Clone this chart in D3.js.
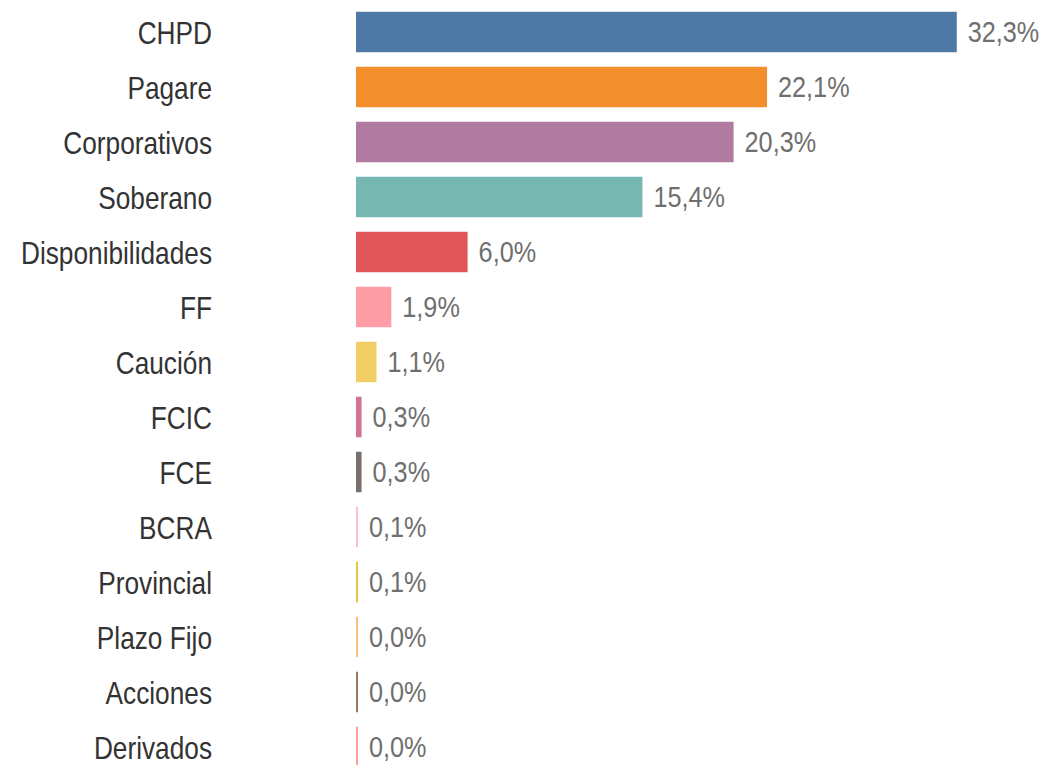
<!DOCTYPE html>
<html>
<head>
<meta charset="utf-8">
<script src="https://cdn.jsdelivr.net/npm/d3@7"></script>
<style>
    body { margin: 0; background: #fff; }
    .catlabel { font-family: "Liberation Sans", Arial, sans-serif; font-size: 32px; fill: #333; }
    .vallabel { font-family: "Liberation Sans", Arial, sans-serif; font-size: 29px; fill: #6f6f6f; }
</style>
</head>
<body>
<svg id="chart" width="1045" height="765"></svg>
<script>
var categories = ["CHPD", "Pagare", "Corporativos", "Soberano", "Disponibilidades", "FF", "Caución",
                  "FCIC", "FCE", "BCRA", "Provincial", "Plazo Fijo", "Acciones", "Derivados"];
var shares     = [32.3, 22.1, 20.3, 15.4, 6.0, 1.9, 1.1, 0.3, 0.3, 0.1, 0.1, 0.0, 0.0, 0.0];
var colors     = ["#4e79a7", "#f28e2b", "#b07aa1", "#76b7b2", "#e15759", "#ff9da7", "#f1ce63",
                  "#d37295", "#79706e", "#fabfd2", "#e9c43f", "#ffbe7d", "#9d7660", "#ff9d9a"];

var rows = categories.map(function(c, i) { return { cat: c, val: shares[i], col: colors[i] }; });

var svg = d3.select("#chart");

// scales
var y = d3.scaleBand()
    .domain(categories)
    .range([4.5, 774.5])
    .paddingInner(0.264)
    .paddingOuter(0.132);

var x = d3.scaleLinear()
    .domain([0, 35])
    .range([356, 356 + 35 * 18.6]);

var es = d3.formatLocale({ decimal: ",", thousands: ".", grouping: [3], currency: ["", "€"] });
var fmt = es.format(".1f");

function barW(d) { return Math.max(x(d.val) - x(0), 2); }
function midY(d) { return y(d.cat) + y.bandwidth() / 2; }

// bars (tiny values still get a sliver)
svg.selectAll(".bar")
    .data(rows)
    .enter().append("rect")
        .attr("class",  "bar")
        .attr("x",      x(0))
        .attr("y",      function(d) { return y(d.cat); })
        .attr("width",  barW)
        .attr("height", y.bandwidth())
        .attr("fill",   function(d) { return d.col; });

// category labels (squeezed to look like the narrow original font)
svg.selectAll(".catlabel")
    .data(rows)
    .enter().append("text")
        .attr("class", "catlabel")
        .attr("transform", function(d) { return "translate(212," + midY(d) + ") scale(0.82,1)"; })
        .attr("dy", "0.36em")
        .attr("text-anchor", "end")
        .text(function(d) { return d.cat; });

// value labels
svg.selectAll(".vallabel")
    .data(rows)
    .enter().append("text")
        .attr("class", "vallabel")
        .attr("transform", function(d) { return "translate(" + (x(0) + barW(d) + 11) + "," + midY(d) + ") scale(0.87,1)"; })
        .attr("dy", "0.36em")
        .text(function(d) { return fmt(d.val) + "%"; });
</script>
</body>
</html>
